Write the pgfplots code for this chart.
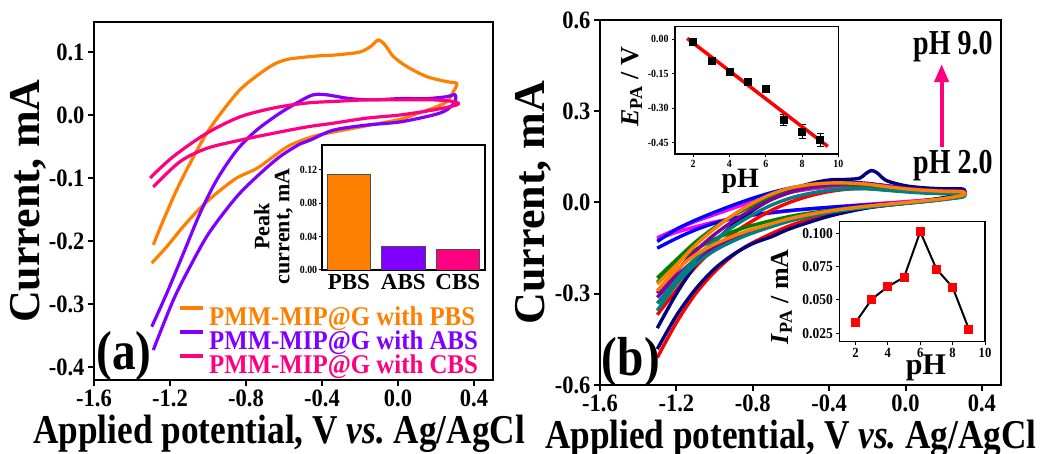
\documentclass[border=0pt]{standalone}
\usepackage{fontspec}
\setmainfont{Liberation Serif}
\newfontfamily\condfont{Liberation Serif}[FakeStretch=0.86]
\newfontfamily\phfont{Liberation Serif}[FakeStretch=0.8]
\newfontfamily\tickfont{Liberation Serif}[FakeStretch=0.9]
\newfontfamily\legfont{Liberation Serif}[FakeStretch=0.92]
\usepackage{pgfplots}
\pgfplotsset{compat=1.18}
\usetikzlibrary{arrows.meta}
\definecolor{cPBS}{RGB}{255,128,0}
\definecolor{cABS}{RGB}{128,0,255}
\definecolor{cCBS}{RGB}{255,0,128}
\definecolor{bBlue}{RGB}{0,0,255}
\definecolor{bMag}{RGB}{255,0,255}
\definecolor{bRed}{RGB}{255,0,0}
\definecolor{bNavy}{RGB}{0,0,128}
\definecolor{bGreen}{RGB}{0,128,0}
\definecolor{bPurple}{RGB}{128,0,160}
\definecolor{bOrange}{RGB}{255,128,0}
\definecolor{bTeal}{RGB}{0,128,128}
\definecolor{arrowc}{RGB}{255,0,128}
\pgfplotsset{
  mainax/.style={scale only axis, axis line style={line width=2.8pt},
    tick align=outside, xtick pos=bottom, ytick pos=left,
    major tick length=6pt, tick style={line width=2pt, black},
    ticklabel style={font=\tickfont\bfseries\fontsize{25}{25}\selectfont},
    xlabel style={font=\condfont\bfseries\fontsize{41}{41}\selectfont, anchor=north, inner sep=0pt},
    ylabel style={font=\bfseries\fontsize{44}{44}\selectfont, anchor=south, inner sep=0pt}},
  inset/.style={scale only axis, axis line style={line width=1.6pt},
    tick align=outside, xtick pos=bottom, ytick pos=left,
    major tick length=3pt, tick style={line width=1pt, black},
    axis background/.style={fill=white}},
  cva/.style={line width=3.2pt, smooth, no markers},
  cvb/.style={line width=3.4pt, smooth, no markers}
}
\begin{document}
\begin{tikzpicture}
\path[use as bounding box] (0pt,0pt) rectangle (1046pt,454pt);

% ---------------- panel (a) ----------------
\begin{axis}[mainax, at={(94pt,74pt)}, anchor=south west, width=399pt, height=358pt,
  xmin=-1.6, xmax=0.5, ymin=-0.4206, ymax=0.1476,
  xtick={-1.6,-1.2,-0.8,-0.4,0,0.4}, xticklabels={-1.6,-1.2,-0.8,-0.4,0.0,0.4},
  ytick={-0.4,-0.3,-0.2,-0.1,0,0.1}, yticklabels={-0.4,-0.3,-0.2,-0.1,0.0,0.1},
  xlabel={Applied potential, V \textit{vs.}\ Ag/AgCl},
  xlabel style={at={(axis description cs:0.464,0)}, yshift=-35pt},
  ylabel={Current, mA},
  ylabel style={at={(axis description cs:-0.12,0.5)}},
  legend style={at={(axis cs:-1.174,-0.300)}, anchor=north west, draw=none, fill=none,
    font=\legfont\bfseries\fontsize{27}{27}\selectfont, row sep=1.5pt, column sep=3pt,
    nodes={inner sep=1pt}},
  legend cell align=left,
  legend image code/.code={\draw[#1, line width=4pt] (0pt,9pt) -- (23pt,9pt);}
]
\addplot[cva, cPBS] coordinates {
(-1.288,-0.206) (-1.235,-0.167) (-1.165,-0.119) (-1.095,-0.077) (-1.007,-0.029)
(-0.919,0.008) (-0.832,0.040) (-0.744,0.062) (-0.656,0.080) (-0.586,0.088)
(-0.516,0.091) (-0.411,0.094) (-0.340,0.095) (-0.270,0.097) (-0.200,0.100)
(-0.147,0.108) (-0.104,0.119) (-0.068,0.111) (-0.025,0.093) (0.046,0.077)
(0.151,0.061) (0.256,0.053) (0.309,0.050)
(0.291,0.037) (0.256,0.021) (0.186,0.011) (0.098,0.002) (0.011,-0.007)
(-0.165,-0.017) (-0.340,-0.027) (-0.446,-0.034) (-0.568,-0.048) (-0.656,-0.066)
(-0.744,-0.085) (-0.849,-0.100) (-0.954,-0.124) (-1.042,-0.148) (-1.130,-0.177)
(-1.217,-0.209) (-1.296,-0.235)};
\addlegendentry{\textcolor{cPBS}{PMM-MIP@G with PBS}}
\addplot[cva, cABS] coordinates {
(-1.296,-0.336) (-1.217,-0.283) (-1.130,-0.220) (-1.042,-0.156) (-0.954,-0.103)
(-0.849,-0.056) (-0.744,-0.024) (-0.621,0.003) (-0.516,0.022) (-0.446,0.032)
(-0.375,0.032) (-0.253,0.026) (-0.130,0.024) (0.011,0.026) (0.151,0.026)
(0.256,0.029) (0.300,0.032)
(0.300,0.021) (0.256,0.008) (0.186,0.000) (0.011,-0.011) (-0.165,-0.016)
(-0.340,-0.024) (-0.463,-0.040) (-0.516,-0.046) (-0.621,-0.066) (-0.726,-0.093)
(-0.832,-0.124) (-0.919,-0.156) (-1.007,-0.193) (-1.095,-0.241) (-1.183,-0.294)
(-1.288,-0.373)};
\addlegendentry{\textcolor{cABS}{PMM-MIP@G with ABS}}
\addplot[cva, cCBS] coordinates {
(-1.305,-0.100) (-1.183,-0.066) (-1.007,-0.029) (-0.832,-0.003) (-0.656,0.011)
(-0.481,0.019) (-0.305,0.022) (-0.165,0.024) (0.011,0.024) (0.186,0.024)
(0.300,0.021)
(0.309,0.016) (0.186,0.008) (0.011,0.000) (-0.165,-0.005) (-0.340,-0.013)
(-0.481,-0.019) (-0.656,-0.029) (-0.832,-0.040) (-1.007,-0.053) (-1.147,-0.074)
(-1.288,-0.114)};
\addlegendentry{\textcolor{cCBS}{PMM-MIP@G with CBS}}
\node[font=\condfont\bfseries\fontsize{55}{55}\selectfont, inner sep=0pt] at (axis description cs:0.075,0.067) {(a)};
\end{axis}

% inset bar chart
\begin{axis}[inset, at={(321.7pt,184pt)}, anchor=south west, width=163.3pt, height=125pt,
  xmin=-0.5, xmax=2.5, ymin=0, ymax=0.15,
  xtick={0,1,2}, xticklabels={PBS,ABS,CBS}, x tick style={draw=none},
  xticklabel style={font=\bfseries\fontsize{23}{23}\selectfont, yshift=2pt},
  ytick={0,0.04,0.08,0.12}, yticklabels={0.00,0.04,0.08,0.12},
  yticklabel style={font=\tickfont\bfseries\fontsize{11}{11}\selectfont, xshift=2pt},
  ylabel={Peak\\current, mA},
  ylabel style={font=\bfseries\fontsize{22}{20}\selectfont, align=center, at={(axis description cs:-0.176,0.35)}, anchor=south, inner sep=0pt}
]
\addplot[ybar, bar width=43.5pt, bar shift=0pt, fill=cPBS, draw=black!70] coordinates {(0,0.115)};
\addplot[ybar, bar width=43.5pt, bar shift=0pt, fill=cABS, draw=black!70] coordinates {(1,0.029)};
\addplot[ybar, bar width=43.5pt, bar shift=0pt, fill=cCBS, draw=black!70] coordinates {(2,0.025)};
\end{axis}

% ---------------- panel (b) ----------------
\begin{axis}[mainax, at={(600pt,69pt)}, anchor=south west, width=401pt, height=365pt,
  xmin=-1.6, xmax=0.5, ymin=-0.6, ymax=0.6,
  xtick={-1.6,-1.2,-0.8,-0.4,0,0.4}, xticklabels={-1.6,-1.2,-0.8,-0.4,0.0,0.4},
  ytick={-0.6,-0.3,0,0.3,0.6}, yticklabels={-0.6,-0.3,0.0,0.3,0.6},
  xlabel={Applied potential, V \textit{vs.}\ Ag/AgCl},
  xlabel style={at={(axis description cs:0.476,0)}, yshift=-35pt},
  ylabel={Current, mA},
  ylabel style={at={(axis description cs:-0.12,0.5)}}
]
\addplot[cvb, bMag] coordinates {
(-1.3,-0.116) (-1.2,-0.088) (-1.1,-0.062) (-1.0,-0.040) (-0.9,-0.018) (-0.8,0.003)
(-0.7,0.020) (-0.6,0.034) (-0.5,0.044) (-0.4,0.050) (-0.3,0.052) (-0.2,0.050)
(-0.1,0.045) (0.0,0.040) (0.1,0.037) (0.2,0.035) (0.3,0.034)
(0.3,0.024) (0.2,0.014) (0.1,0.008) (0.0,0.003) (-0.2,-0.006) (-0.4,-0.016)
(-0.6,-0.027) (-0.8,-0.042) (-0.9,-0.052) (-1.0,-0.064) (-1.1,-0.080) (-1.2,-0.098)
(-1.3,-0.120)};
\addplot[cvb, bBlue] coordinates {
(-1.3,-0.128) (-1.2,-0.088) (-1.1,-0.058) (-1.0,-0.032) (-0.9,-0.008) (-0.8,0.014)
(-0.7,0.033) (-0.6,0.048) (-0.5,0.058) (-0.4,0.064) (-0.3,0.066) (-0.2,0.063)
(-0.1,0.055) (0.0,0.048) (0.1,0.044) (0.2,0.042) (0.3,0.041)
(0.3,0.028) (0.2,0.014) (0.1,0.006) (0.0,0.000) (-0.2,-0.008) (-0.4,-0.016)
(-0.6,-0.026) (-0.8,-0.040) (-0.9,-0.052) (-1.0,-0.068) (-1.1,-0.090) (-1.2,-0.118)
(-1.3,-0.150)};
\addplot[cvb, bRed] coordinates {
(-1.3,-0.369) (-1.2,-0.288) (-1.1,-0.212) (-1.0,-0.150) (-0.9,-0.100) (-0.8,-0.060)
(-0.7,-0.025) (-0.6,0.002) (-0.5,0.022) (-0.4,0.036) (-0.3,0.044) (-0.2,0.046)
(-0.1,0.042) (0.0,0.037) (0.1,0.033) (0.2,0.031) (0.3,0.030)
(0.3,0.020) (0.2,0.010) (0.1,0.003) (0.0,-0.003) (-0.2,-0.016) (-0.4,-0.038)
(-0.6,-0.075) (-0.8,-0.132) (-0.9,-0.172) (-1.0,-0.228) (-1.1,-0.300) (-1.2,-0.395)
(-1.3,-0.510)};
\addplot[cvb, bNavy] coordinates {
(-1.3,-0.413) (-1.2,-0.300) (-1.1,-0.205) (-1.0,-0.130) (-0.9,-0.072) (-0.8,-0.026)
(-0.7,0.012) (-0.6,0.042) (-0.5,0.062) (-0.4,0.074) (-0.3,0.076) (-0.24,0.080)
(-0.21,0.094) (-0.18,0.105) (-0.15,0.098) (-0.1,0.072) (0.0,0.055) (0.1,0.048)
(0.2,0.045) (0.3,0.044)
(0.3,0.030) (0.2,0.016) (0.1,0.006) (0.0,-0.002) (-0.2,-0.018) (-0.4,-0.045)
(-0.6,-0.085) (-0.7,-0.112) (-0.8,-0.135) (-0.9,-0.170) (-1.0,-0.218) (-1.1,-0.285)
(-1.2,-0.372) (-1.3,-0.482)};
\addplot[cvb, bGreen] coordinates {
(-1.3,-0.248) (-1.2,-0.188) (-1.1,-0.130) (-1.0,-0.082) (-0.9,-0.042) (-0.8,-0.010)
(-0.7,0.016) (-0.6,0.035) (-0.5,0.048) (-0.4,0.055) (-0.3,0.058) (-0.2,0.057)
(-0.1,0.050) (0.0,0.044) (0.1,0.040) (0.2,0.037) (0.3,0.035)
(0.3,0.022) (0.2,0.012) (0.1,0.005) (0.0,-0.001) (-0.2,-0.012) (-0.4,-0.026)
(-0.6,-0.045) (-0.8,-0.075) (-0.9,-0.095) (-1.0,-0.120) (-1.1,-0.155) (-1.2,-0.200)
(-1.3,-0.262)};
\addplot[cvb, bPurple] coordinates {
(-1.3,-0.298) (-1.2,-0.226) (-1.1,-0.160) (-1.0,-0.105) (-0.9,-0.060) (-0.8,-0.022)
(-0.7,0.010) (-0.6,0.034) (-0.5,0.050) (-0.4,0.058) (-0.3,0.062) (-0.2,0.061)
(-0.1,0.055) (0.0,0.047) (0.1,0.042) (0.2,0.039) (0.3,0.037)
(0.3,0.023) (0.2,0.012) (0.1,0.004) (0.0,-0.002) (-0.2,-0.014) (-0.4,-0.030)
(-0.6,-0.056) (-0.8,-0.094) (-0.9,-0.118) (-1.0,-0.148) (-1.1,-0.188) (-1.2,-0.243)
(-1.3,-0.312)};
\addplot[cvb, bTeal] coordinates {
(-1.3,-0.332) (-1.2,-0.255) (-1.1,-0.185) (-1.0,-0.126) (-0.9,-0.078) (-0.8,-0.040)
(-0.7,-0.008) (-0.6,0.015) (-0.5,0.030) (-0.4,0.040) (-0.3,0.045) (-0.2,0.045)
(-0.1,0.040) (0.0,0.035) (0.1,0.031) (0.2,0.029) (0.3,0.028)
(0.3,0.018) (0.2,0.010) (0.1,0.003) (0.0,-0.003) (-0.2,-0.016) (-0.4,-0.033)
(-0.6,-0.060) (-0.8,-0.100) (-0.9,-0.126) (-1.0,-0.158) (-1.1,-0.203) (-1.2,-0.268)
(-1.3,-0.355)};
\addplot[cvb, bOrange] coordinates {
(-1.3,-0.268) (-1.2,-0.205) (-1.1,-0.140) (-1.0,-0.086) (-0.9,-0.040) (-0.8,-0.002)
(-0.7,0.028) (-0.6,0.048) (-0.5,0.059) (-0.4,0.064) (-0.3,0.064) (-0.2,0.060)
(-0.1,0.052) (0.0,0.045) (0.1,0.040) (0.2,0.037) (0.3,0.035)
(0.3,0.024) (0.2,0.013) (0.1,0.006) (0.0,0.000) (-0.2,-0.012) (-0.4,-0.028)
(-0.6,-0.052) (-0.8,-0.088) (-0.9,-0.110) (-1.0,-0.137) (-1.1,-0.172) (-1.2,-0.222)
(-1.3,-0.290)};
\node[font=\phfont\bfseries\fontsize{35}{35}\selectfont, inner sep=0pt] at (axis cs:0.248,0.511) {pH 9.0};
\node[font=\phfont\bfseries\fontsize{35}{35}\selectfont, inner sep=0pt] at (axis cs:0.248,0.122) {pH 2.0};
\draw[arrowc, line width=4pt, -{Triangle[length=18pt,width=14pt]}] (axis cs:0.189,0.181) -- (axis cs:0.189,0.455);
\node[font=\condfont\bfseries\fontsize{55}{55}\selectfont, inner sep=0pt] at (axis description cs:0.077,0.063) {(b)};
\end{axis}

% inset E_PA vs pH
\begin{axis}[inset, at={(675pt,300pt)}, anchor=south west, width=163.3pt, height=127.3pt,
  xmin=1, xmax=10, ymin=-0.5, ymax=0.055,
  xtick={2,4,6,8,10}, xticklabels={2,4,6,8,10},
  ytick={-0.45,-0.3,-0.15,0}, yticklabels={-0.45,-0.30,-0.15,0.00},
  ticklabel style={font=\tickfont\bfseries\fontsize{11}{11}\selectfont},
  xlabel={pH}, xlabel style={font=\bfseries\fontsize{28}{28}\selectfont, at={(axis description cs:0.40,0)}, anchor=north, yshift=-15pt, inner sep=0pt},
  ylabel={\textit{E}\textsubscript{PA} / V},
  ylabel style={font=\bfseries\fontsize{26}{26}\selectfont, at={(axis description cs:-0.2,0.526)}, anchor=south, inner sep=0pt}
]
\addplot[black, only marks, mark=square*, mark size=3.5pt,
  error bars/.cd, y dir=both, y explicit, error bar style={line width=0.8pt}] coordinates {
(2,-0.010) +- (0,0.010)
(3,-0.093) +- (0,0.008)
(4,-0.141) +- (0,0.010)
(5,-0.184) +- (0,0.008)
(6,-0.216) +- (0,0.012)
(7,-0.351) +- (0,0.025)
(8,-0.402) +- (0,0.030)
(9,-0.438) +- (0,0.030)};
\addplot[red, line width=3.5pt] coordinates {(1.67,0.004) (9.42,-0.467)};
\end{axis}

% inset I_PA vs pH
\begin{axis}[inset, at={(839.3pt,112.3pt)}, anchor=south west, width=145.7pt, height=120pt,
  xmin=1, xmax=10, ymin=0.0187, ymax=0.1087,
  xtick={2,4,6,8,10}, xticklabels={2,4,6,8,10},
  ytick={0.025,0.05,0.075,0.1}, yticklabels={0.025,0.050,0.075,0.100},
  xticklabel style={font=\tickfont\bfseries\fontsize{14}{14}\selectfont},
  yticklabel style={font=\tickfont\bfseries\fontsize{15}{15}\selectfont},
  xlabel={pH}, xlabel style={font=\bfseries\fontsize{30}{30}\selectfont, at={(axis description cs:0.595,0)}, anchor=north, yshift=-13pt, inner sep=0pt},
  ylabel={\textit{I}\textsubscript{PA} / mA},
  ylabel style={font=\bfseries\fontsize{26}{26}\selectfont, at={(axis description cs:-0.325,0.3725)}, anchor=south, inner sep=0pt}
]
\addplot[black, line width=2pt, mark=square*, mark size=3.5pt, mark options={fill=red, draw=red}] coordinates {
(2,0.033) (3,0.0505) (4,0.060) (5,0.067) (6,0.1012) (7,0.0732) (8,0.0595) (9,0.0282)};
\end{axis}
\end{tikzpicture}
\end{document}
